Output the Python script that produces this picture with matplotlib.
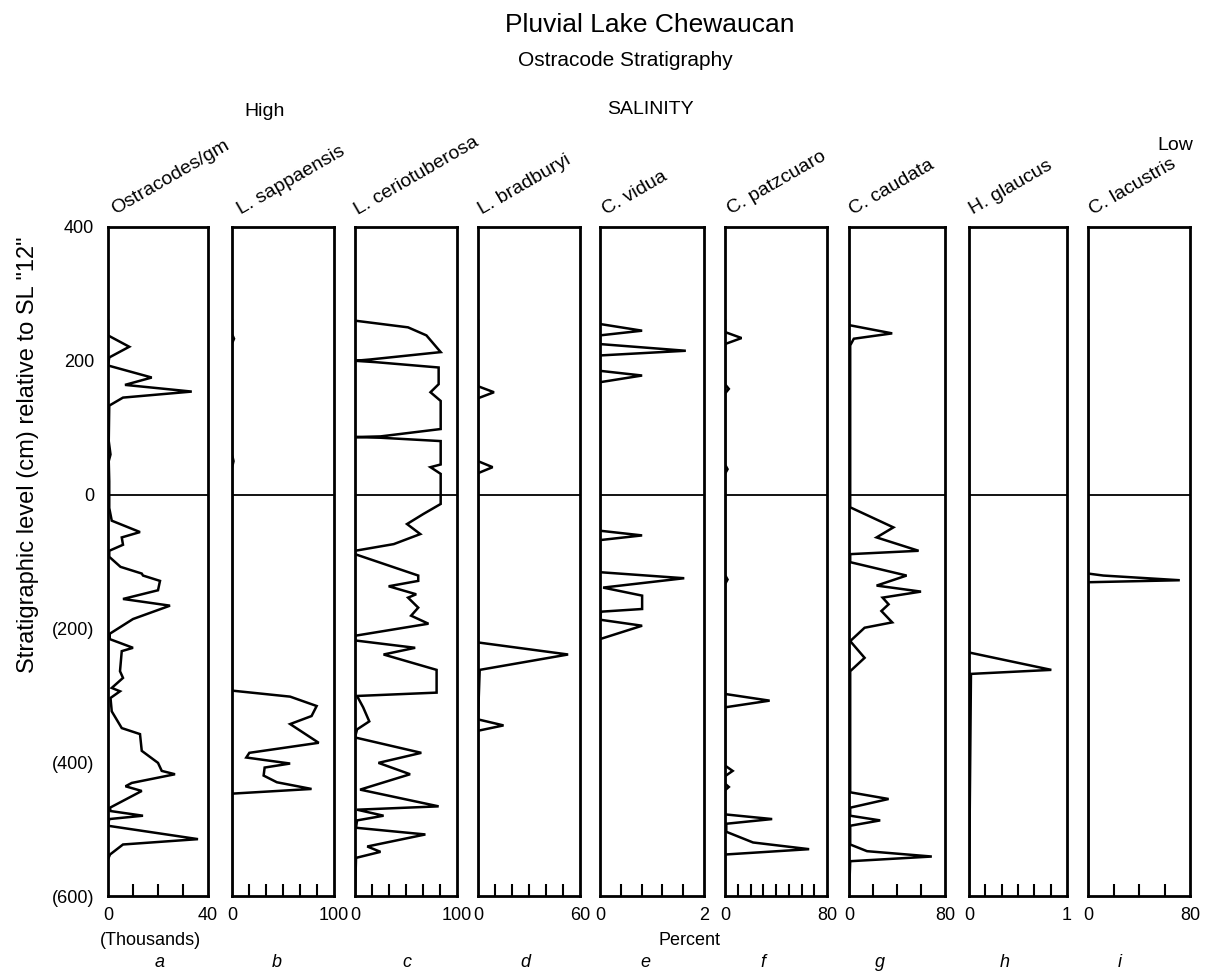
import matplotlib
matplotlib.use("Agg")
import matplotlib.pyplot as plt
import numpy as np

plt.rcParams['font.family'] = ['Liberation Sans', 'DejaVu Sans']

# ---- data: depth (cm relative to SL "12") and value ----
names = ["Ostracodes/gm", "L. sappaensis", "L. ceriotuberosa", "L. bradburyi",
         "C. vidua", "C. patzcuaro", "C. caudata", "H. glaucus", "C. lacustris"]
letters = ["a", "b", "c", "d", "e", "f", "g", "h", "i"]
xmax = [40, 100, 100, 60, 2, 80, 80, 1, 80]
end_labels = ["40", "100", "100", "60", "2", "80", "80", "1", "80"]
n_inner_ticks = [3, 5, 5, 5, 4, 7, 3, 5, 3]

a_depth = [260, 238, 221, 205, 193, 175, 164, 154, 145, 133, 80, 60, 50, 20, 0, -20,
           -39, -56, -64, -75, -84, -93, -108, -118, -121, -129, -143, -156, -166,
           -186, -208, -216, -229, -234, -264, -274, -289, -294, -304, -324, -349,
           -358, -383, -401, -413, -418, -431, -436, -443, -468, -473, -480, -485,
           -495, -515, -523, -538, -545]
a_val = [0, 0, 8.5, 0.5, 0, 17.5, 6.8, 33.5, 6, 0.5, 0.3, 1, 0.3, 0.5, 0.5, 0.5,
         1.5, 12.8, 5.5, 6, 0.5, 0.5, 5, 13.5, 14, 20.8, 20, 6, 24.8,
         10, 0.7, 0.7, 10, 5.5, 4.8, 6, 1.5, 4.8, 1, 1.5, 5.5,
         12.8, 13.5, 20, 21.5, 26.8, 9.5, 7, 13.5, 0.8, 1, 14, 0.5,
         0, 36, 6, 0.8, 0]

b_depth = [260, 240, 233, 226, 60, 50, 40, 0, -293, -302, -316, -331, -343, -371, -386,
           -393, -402, -408, -420, -430, -440, -447, -600]
b_val = [0, 0, 2, 0, 0, 1.5, 0, 0, 0, 57, 83, 78, 57, 85, 17,
         14, 57, 32, 31, 44, 78, 0, 0]

c_depth = [260, 250, 238, 213, 202, 200, 198, 190, 165, 153, 140, 98, 87, 86, 85, 80,
           45, 41, 31, -14, -29, -44, -59, -74, -84, -89, -121, -129, -137, -149,
           -154, -169, -181, -193, -211, -218, -229, -239, -262, -296, -301, -318,
           -339, -351, -363, -386, -401, -418, -441, -466, -471, -480, -487, -498,
           -508, -526, -534, -543, -600]
c_val = [0, 52, 70, 84, 15, 0, 20, 82, 82, 74, 84, 84, 25, 0, 25, 84,
         84, 74, 84, 84, 67, 51, 64, 38, 0, 0, 62, 62, 33, 60,
         52, 62, 55, 72, 0, 0, 59, 28, 80, 80, 2, 8,
         14, 2, 0, 65, 23, 54, 5, 82, 2, 28, 2, 1,
         69, 12, 25, 1, 0]

d_depth = [260, 162, 153, 144, 50, 41, 32, -221, -239, -262, -336, -345, -353, -600]
d_val = [0, 0, 9.4, 0, 0, 8.6, 0, 0, 53, 1, 0, 15, 0, 0]

e_depth = [255, 245, 238, 225, 215, 208, 185, 178, 168, -54, -61, -68, -116, -125,
           -139, -151, -171, -175, -187, -196, -216]
e_val = [0, 0.81, 0, 0, 1.65, 0, 0, 0.81, 0, 0, 0.81, 0, 0, 1.62,
         0.06, 0.81, 0.81, 0.02, 0, 0.81, 0]

f_depth = [260, 243, 234, 225, 165, 158, 151, 45, 38, 31, -120, -127, -134, -298, -308,
           -318, -405, -413, -421, -432, -437, -442, -478, -485, -492, -504, -520,
           -530, -538, -600]
f_val = [0, 0, 13, 0, 0, 3, 0, 0, 2, 0, 0, 2, 0, 0, 35,
         0, 0, 6, 0, 0, 3, 0, 0, 37, 1, 1, 22,
         66, 0, 0]

g_depth = [253, 241, 233, 223, -19, -49, -64, -84, -89, -101, -121, -136, -145, -154,
           -164, -174, -191, -199, -219, -244, -264, -445, -455, -468, -480, -487,
           -495, -523, -533, -541, -548, -600]
g_val = [1, 36, 4, 1, 1, 37, 23, 58, 1, 1, 48, 23, 60, 28,
         33, 27, 36, 13, 1, 13, 1, 1, 33, 1, 1, 26,
         1, 1, 15, 69, 1, 0]

h_depth = [260, -236, -262, -268, -600]
h_val = [0, 0, 0.84, 0.02, 0]

i_depth = [260, -118, -121, -128, -131, -600]
i_val = [0, 0, 12, 72, 0, 0]

depths = [a_depth, b_depth, c_depth, d_depth, e_depth, f_depth, g_depth, h_depth, i_depth]
values = [a_val, b_val, c_val, d_val, e_val, f_val, g_val, h_val, i_val]

# panel pixel extents (left, right)
panel_x = [(108, 208), (232, 334), (355, 457), (478, 580), (600, 704),
           (725, 827), (849, 945), (969, 1067), (1088, 1190)]
label_x = [117, 243, 360, 484, 608, 733, 855, 975, 1095]
letter_x = [160, 277, 407, 525, 645, 763, 880, 1005, 1120]

W, H = 1206, 980
TOP, BOT = 227, 896

fig = plt.figure(figsize=(W / 100, H / 100), dpi=100)


def fx(x):
    return x / W


def fy(y):
    return 1 - y / H


for k in range(9):
    x0, x1 = panel_x[k]
    ax = fig.add_axes([fx(x0), fy(BOT), (x1 - x0) / W, (BOT - TOP) / H])
    ax.plot(values[k], depths[k], color='black', lw=1.8, clip_on=True,
            solid_joinstyle='miter')
    ax.axhline(0, color='black', lw=1.3)
    ax.set_xlim(0, xmax[k])
    ax.set_ylim(-600, 400)
    for s in ax.spines.values():
        s.set_linewidth(2.0)
    # end labels at the box edges, inner ticks pointing up
    ax.set_xticks([0, xmax[k]])
    ax.set_xticklabels(["0", end_labels[k]], fontsize=13)
    ax.set_xticks(np.linspace(0, xmax[k], n_inner_ticks[k] + 2)[1:-1], minor=True)
    ax.tick_params(axis='x', which='major', length=0, pad=8)
    ax.tick_params(axis='x', which='minor', direction='in', length=9, width=1.5)
    if k == 0:
        ax.set_yticks([400, 200, 0, -200, -400, -600])
        ax.set_yticklabels(["400", "200", "0", "(200)", "(400)", "(600)"], fontsize=13)
        ax.tick_params(axis='y', length=0, pad=10)
    else:
        ax.set_yticks([])
    # rotated taxon name
    fig.text(fx(label_x[k]), fy(218), names[k], rotation=30, rotation_mode='anchor',
             ha='left', va='bottom', fontsize=14)
    fig.text(fx(letter_x[k]), fy(962), letters[k], ha='center', va='center',
             fontsize=13, style='italic')

fig.text(fx(650), fy(25), "Pluvial Lake Chewaucan", ha='center', va='center', fontsize=19)
fig.text(fx(625), fy(60), "Ostracode Stratigraphy", ha='center', va='center', fontsize=15)
fig.text(fx(265), fy(112), "High", ha='center', va='center', fontsize=14)
fig.text(fx(650), fy(110), "SALINITY", ha='center', va='center', fontsize=14)
fig.text(fx(1175), fy(145), "Low", ha='center', va='center', fontsize=14)
fig.text(fx(150), fy(940), "(Thousands)", ha='center', va='center', fontsize=13)
fig.text(fx(690), fy(940), "Percent", ha='center', va='center', fontsize=13)
fig.text(fx(28), fy(455), 'Stratigraphic level (cm) relative to SL "12"', rotation=90,
         ha='center', va='center', fontsize=17)

fig.savefig("out.png", dpi=100)
